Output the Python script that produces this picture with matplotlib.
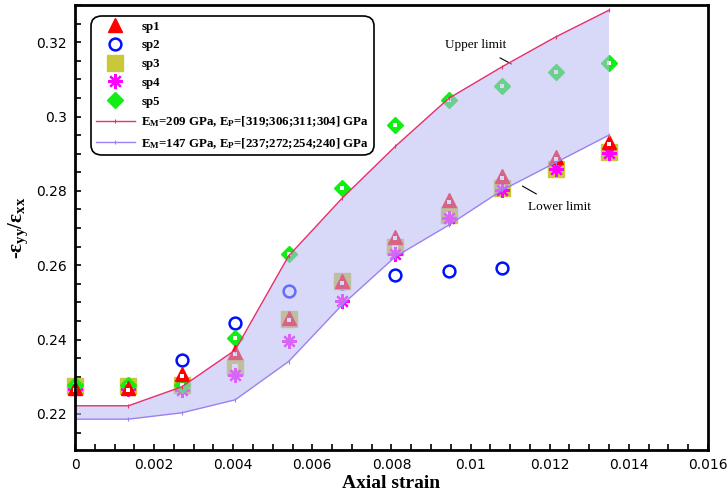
import matplotlib
matplotlib.use("Agg")
import matplotlib.pyplot as plt
from matplotlib.ticker import MultipleLocator, FuncFormatter
from matplotlib.lines import Line2D

# ---------------- data ----------------
strain = [0.0, 0.00135, 0.0027, 0.00405, 0.0054, 0.00675, 0.0081, 0.00945, 0.0108, 0.01215, 0.0135]
sp1 = [0.2270, 0.2270, 0.2308, 0.2367, 0.2458, 0.2558, 0.2677, 0.2775, 0.2840, 0.2892, 0.2932]
sp2_x = [0.0, 0.00135, 0.0027, 0.00405, 0.0054, 0.00675, 0.0081, 0.00945, 0.0108]
sp2 = [0.2275, 0.2275, 0.2345, 0.2445, 0.2531, 0.2553, 0.2574, 0.2585, 0.2593]
sp3 = [0.2275, 0.2275, 0.2278, 0.2327, 0.2455, 0.2558, 0.2650, 0.2735, 0.2807, 0.2860, 0.2905]
sp4 = [0.2268, 0.2268, 0.2265, 0.2305, 0.2397, 0.2505, 0.2629, 0.2728, 0.2802, 0.2858, 0.2903]
sp5 = [0.2278, 0.2278, 0.2278, 0.2404, 0.2629, 0.2809, 0.2977, 0.3044, 0.3083, 0.3119, 0.3144]
upper = [0.2222, 0.2222, 0.2273, 0.2372, 0.2625, 0.2780, 0.2920, 0.3049, 0.3134, 0.3214, 0.3286]
lower = [0.2186, 0.2186, 0.2203, 0.2238, 0.2341, 0.2493, 0.2623, 0.2708, 0.2802, 0.2876, 0.2950]

label_upper = r"E$_{\mathbf{M}}$=209 GPa, E$_{\mathbf{P}}$=[319;306;311;304] GPa"
label_lower = r"E$_{\mathbf{M}}$=147 GPa, E$_{\mathbf{P}}$=[237;272;254;240] GPa"

plt.rcParams['mathtext.fontset'] = 'custom'
plt.rcParams['mathtext.rm'] = 'Liberation Serif:bold'
plt.rcParams['mathtext.bf'] = 'Liberation Serif:bold'
plt.rcParams['mathtext.it'] = 'Liberation Serif:bold'

fig = plt.figure(figsize=(7.27, 4.99), dpi=100)
ax = fig.add_axes([0.1032, 0.0982, 0.8705, 0.8918])

c_up = '#e8306a'
c_lo = '#9a80f2'

st = {
    'sp1': dict(marker='^', ms=10.5, mfc='#ff0000', mec='#ff0000', mew=1.0),
    'sp2': dict(marker='o', ms=8.5, mfc='none', mec='#0010ff', mew=1.8),
    'sp3': dict(marker='s', ms=11, mfc='#c8c83a', mec='#c8c83a', mew=1.0),
    'sp4': dict(marker=(8, 2, 0), ms=10.5, mfc='#ff00ff', mec='#ff00ff', mew=1.6),
    'sp5': dict(marker='D', ms=8.5, mfc='#11ee11', mec='#11ee11', mew=1.0),
}
dot = dict(marker='s', ms=2.2, mfc='white', mec='white', mew=0)

ax.plot(sp2_x, sp2, ls='none', zorder=3, clip_on=False, **st['sp2'])
ax.plot(strain, sp3, ls='none', zorder=3, clip_on=False, **st['sp3'])
ax.plot(strain, sp3, ls='none', zorder=3, clip_on=False, marker='s', ms=4, mfc='white', mec='white', mew=0)
ax.plot(strain, sp4, ls='none', zorder=3, clip_on=False, **st['sp4'])
ax.plot(strain, sp5, ls='none', zorder=3, clip_on=False, **st['sp5'])
ax.plot(strain, sp5, ls='none', zorder=3, clip_on=False, **dot)
ax.plot(strain, sp1, ls='none', zorder=3, clip_on=False, **st['sp1'])
ax.plot(strain, [v - 0.0005 for v in sp1], ls='none', zorder=3, clip_on=False, **dot)

ax.fill_between(strain, lower, upper, facecolor='#b8b8f4', alpha=0.55, lw=0, zorder=4)
ax.plot(strain, upper, color=c_up, lw=1.0, marker='|', ms=3, mew=0.8, zorder=5)
ax.plot(strain, lower, color=c_lo, lw=1.0, marker='|', ms=3, mew=0.8, zorder=5)

ax.set_xlim(0, 0.016)
ax.set_ylim(0.2103, 0.3300)
ax.xaxis.set_major_locator(MultipleLocator(0.002))
ax.xaxis.set_minor_locator(MultipleLocator(0.0005))
ax.yaxis.set_major_locator(MultipleLocator(0.02))
ax.yaxis.set_minor_locator(MultipleLocator(0.005))
ax.tick_params(which='both', direction='in', length=4, width=1.2, top=False, right=False)
ax.tick_params(axis='both', labelsize=10, pad=6)
ax.xaxis.set_major_formatter(FuncFormatter(lambda v, p: ('%g' % round(v, 4))))
ax.yaxis.set_major_formatter(FuncFormatter(lambda v, p: ('%g' % round(v, 3))))
for s in ax.spines.values():
    s.set_linewidth(2.0)
    s.set_zorder(6)

ax.set_xlabel('Axial strain', fontsize=14, fontweight='bold', family='Liberation Serif', labelpad=2)
ax.set_ylabel(r'-$\varepsilon_{\mathrm{yy}}/\varepsilon_{\mathrm{xx}}$', fontsize=15,
              family='Liberation Serif', labelpad=4)

ax.annotate('Upper limit', xy=(0.01104, 0.3141), xytext=(0.01014, 0.3192),
            fontsize=9.5, family='Liberation Serif', ha='center', va='center',
            arrowprops=dict(arrowstyle='-', color='black', lw=0.8, shrinkA=6, shrinkB=0))
ax.annotate('Lower limit', xy=(0.01131, 0.2813), xytext=(0.01224, 0.2757),
            fontsize=9.5, family='Liberation Serif', ha='center', va='center',
            arrowprops=dict(arrowstyle='-', color='black', lw=0.8, shrinkA=6, shrinkB=0))

handles = [
    Line2D([], [], ls='none', **st['sp1']),
    Line2D([], [], ls='none', **st['sp2']),
    Line2D([], [], ls='none', **st['sp3']),
    Line2D([], [], ls='none', **st['sp4']),
    Line2D([], [], ls='none', **st['sp5']),
    Line2D([], [], color=c_up, lw=1.0, marker='|', ms=3, mew=0.8),
    Line2D([], [], color=c_lo, lw=1.0, marker='|', ms=3, mew=0.8),
]
labels = ['sp1', 'sp2', 'sp3', 'sp4', 'sp5', label_upper, label_lower]
leg = ax.legend(handles, labels, loc='upper left', bbox_to_anchor=(0.026, 0.975),
                prop={'family': 'Liberation Serif', 'weight': 'bold', 'size': 9.3},
                frameon=True, fancybox=True, edgecolor='black', framealpha=1,
                handlelength=3.0, handletextpad=0.5, borderpad=0.35, labelspacing=0.52,
                borderaxespad=0)
leg.get_frame().set_linewidth(1.2)
leg.get_frame().set_boxstyle('round,pad=0,rounding_size=0.8')
leg.set_zorder(7)

fig.savefig('out.png', dpi=100)
